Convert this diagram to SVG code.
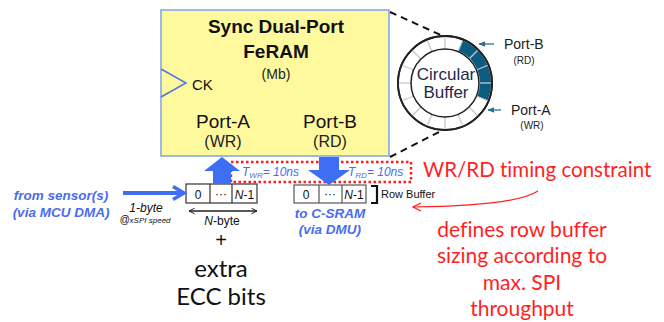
<svg xmlns="http://www.w3.org/2000/svg" width="664" height="322" viewBox="0 0 664 322">
<defs>
<style>
.a{font-family:"Liberation Sans",Arial,sans-serif}
.c{font-family:Lato,"Open Sans",sans-serif;font-variant-ligatures:none}
.blue{fill:#4b6cf0}
.red{fill:#ff1f1f}
.cell{fill:#fff;stroke:#333;stroke-width:1.2}
.tk{stroke:#c8c8c8;stroke-width:1.3}
</style>
<marker id="ah" viewBox="0 0 10 10" refX="9" refY="5" markerWidth="7" markerHeight="7" orient="auto-start-reverse" markerUnits="userSpaceOnUse">
<path d="M1,1 L9,5 L1,9" fill="none" stroke="#222" stroke-width="1.4"/>
</marker>
<marker id="rh" viewBox="0 0 10 10" refX="9" refY="5" markerWidth="10" markerHeight="10" orient="auto-start-reverse" markerUnits="userSpaceOnUse">
<path d="M1,1 L9,5 L1,9" fill="none" stroke="#ff2020" stroke-width="1.2"/>
</marker>
<marker id="th" viewBox="0 0 10 10" refX="9" refY="5" markerWidth="7" markerHeight="7" orient="auto" markerUnits="userSpaceOnUse">
<path d="M0,1 L10,5 L0,9 Z" fill="#2c6f8f"/>
</marker>
<line id="tick" class="tk" x1="445" y1="49" x2="445" y2="36"/>
</defs>
<rect width="664" height="322" fill="#fff"/>

<g id="feram">
<rect x="161" y="10" width="228" height="146" fill="#fff99e" stroke="#7fa2e8" stroke-width="1.5"/>
<text class="a" x="276" y="33" font-size="19" font-weight="bold" text-anchor="middle" fill="#111">Sync Dual-Port</text>
<text class="a" x="276" y="58" font-size="19" font-weight="bold" text-anchor="middle" fill="#111">FeRAM</text>
<text class="a" x="276" y="79" font-size="14" text-anchor="middle" fill="#222">(Mb)</text>
<path d="M161,69 L186,83 L161,97" fill="none" stroke="#4a78e0" stroke-width="1.5"/>
<text class="a" x="192" y="90" font-size="15" fill="#111">CK</text>
<text class="a" x="223" y="128" font-size="19" text-anchor="middle" fill="#111">Port-A</text>
<text class="a" x="223" y="147" font-size="16" text-anchor="middle" fill="#222">(WR)</text>
<text class="a" x="330" y="128" font-size="19" text-anchor="middle" fill="#111">Port-B</text>
<text class="a" x="330" y="147" font-size="16" text-anchor="middle" fill="#222">(RD)</text>
</g>

<g id="circular-buffer">
<circle cx="445" cy="83" r="47" fill="#fff" stroke="#222" stroke-width="1.8"/>
<path d="M462.60,40.50 A46,46 0 0 1 487.50,100.60 L477.34,96.39 A35,35 0 0 0 458.39,50.66 Z" fill="#0d5b80"/>
<use href="#tick"/>
<use href="#tick" transform="rotate(22.5 445 83)"/>
<use href="#tick" transform="rotate(45 445 83)"/>
<use href="#tick" transform="rotate(67.5 445 83)"/>
<use href="#tick" transform="rotate(90 445 83)"/>
<use href="#tick" transform="rotate(112.5 445 83)"/>
<use href="#tick" transform="rotate(135 445 83)"/>
<use href="#tick" transform="rotate(157.5 445 83)"/>
<use href="#tick" transform="rotate(180 445 83)"/>
<use href="#tick" transform="rotate(202.5 445 83)"/>
<use href="#tick" transform="rotate(225 445 83)"/>
<use href="#tick" transform="rotate(247.5 445 83)"/>
<use href="#tick" transform="rotate(270 445 83)"/>
<use href="#tick" transform="rotate(292.5 445 83)"/>
<use href="#tick" transform="rotate(315 445 83)"/>
<use href="#tick" transform="rotate(337.5 445 83)"/>
<circle cx="445" cy="83" r="47" fill="none" stroke="#222" stroke-width="1.8"/>
<circle cx="445" cy="83" r="34" fill="#fff" stroke="#222" stroke-width="1.5"/>
<text class="a" x="446" y="80" font-size="17" text-anchor="middle" fill="#1c2a4a">Circular</text>
<text class="a" x="446" y="98" font-size="17" text-anchor="middle" fill="#1c2a4a">Buffer</text>
<text class="a" x="504" y="49" font-size="14" fill="#222">Port-B</text>
<text class="a" x="524" y="64" font-size="10" text-anchor="middle" fill="#222">(RD)</text>
<text class="a" x="511" y="115" font-size="14" fill="#222">Port-A</text>
<text class="a" x="532" y="129" font-size="10" text-anchor="middle" fill="#222">(WR)</text>
</g>

<g id="row-buffer-in">
<rect class="cell" x="186" y="184" width="71" height="19"/>
<line x1="210" y1="184" x2="210" y2="203" stroke="#333" stroke-width="1.2"/>
<line x1="232" y1="184" x2="232" y2="203" stroke="#333" stroke-width="1.2"/>
<text class="a" x="198" y="199" font-size="12" text-anchor="middle" fill="#111">0</text>
<text class="a" x="221" y="198" font-size="12" text-anchor="middle" fill="#111">···</text>
<text class="a" x="244.5" y="199" font-size="12" text-anchor="middle" fill="#111"><tspan font-style="italic">N</tspan>-1</text>
</g>

<g id="row-buffer-out">
<rect class="cell" x="294" y="185" width="72" height="18" style="stroke:#555"/>
<line x1="319" y1="185" x2="319" y2="203" stroke="#555" stroke-width="1.2"/>
<line x1="342" y1="185" x2="342" y2="203" stroke="#555" stroke-width="1.2"/>
<text class="a" x="306" y="199" font-size="12" text-anchor="middle" fill="#111">0</text>
<text class="a" x="330" y="198" font-size="12" text-anchor="middle" fill="#111">···</text>
<text class="a" x="354" y="199" font-size="12" text-anchor="middle" fill="#111"><tspan font-style="italic">N</tspan>-1</text>
<path d="M371,186 L377,186 L377,203 L371,203" fill="none" stroke="#111" stroke-width="2.2"/>
<text class="a" x="381" y="198" font-size="11" fill="#111">Row Buffer</text>
</g>

<g id="timing">
<rect x="231" y="162" width="180" height="20" fill="none" stroke="#ff1a1a" stroke-width="2.5" stroke-dasharray="2.5 2.5"/>
<text class="a blue" x="242" y="176" font-size="12" font-style="italic">T<tspan font-size="8" dy="2">WR</tspan><tspan dy="-2">= 10ns</tspan></text>
<text class="a blue" x="348" y="176" font-size="12" font-style="italic">T<tspan font-size="8" dy="2">RD</tspan><tspan dy="-2">= 10ns</tspan></text>
</g>

<g id="labels">
<text class="a blue" x="61" y="200" font-size="13.5" font-weight="bold" font-style="italic" text-anchor="middle">from sensor(s)</text>
<text class="a blue" x="61" y="217" font-size="13.5" font-weight="bold" font-style="italic" text-anchor="middle">(via MCU DMA)</text>
<text class="a" x="146" y="212" font-size="12" font-style="italic" text-anchor="middle" fill="#111">1-byte</text>
<text class="a" x="145" y="223" font-size="8" font-style="italic" text-anchor="middle" fill="#111"><tspan font-size="10">@</tspan>xSPI speed</text>
<text class="a" x="222" y="225" font-size="12" text-anchor="middle" fill="#111"><tspan font-style="italic">N</tspan>-byte</text>
<text class="a" x="221" y="247" font-size="20" text-anchor="middle" fill="#111">+</text>
<text class="c" x="221" y="277" font-size="24" text-anchor="middle" fill="#111">extra</text>
<text class="c" x="221" y="305" font-size="24" text-anchor="middle" fill="#111">ECC bits</text>
<text class="a blue" x="330" y="218" font-size="13.5" font-weight="bold" font-style="italic" text-anchor="middle">to C-SRAM</text>
<text class="a blue" x="330" y="234" font-size="13.5" font-weight="bold" font-style="italic" text-anchor="middle">(via DMU)</text>
<text class="c red" x="423" y="177" font-size="20.5">WR/RD timing constraint</text>
<text class="c red" x="522" y="237" font-size="21" text-anchor="middle">defines row buffer</text>
<text class="c red" x="522" y="263" font-size="21" text-anchor="middle">sizing according to</text>
<text class="c red" x="522" y="290" font-size="21" text-anchor="middle">max. SPI</text>
<text class="c red" x="522" y="316" font-size="21" text-anchor="middle">throughput</text>
</g>

<g id="connectors">
<path d="M390,12 L443,36" fill="none" stroke="#111" stroke-width="2" stroke-dasharray="7 5"/>
<path d="M390,157 L443,130" fill="none" stroke="#111" stroke-width="2" stroke-dasharray="7 5"/>
<polygon points="222,157 240,171 231,171 231,184 213,184 213,171 204,171" fill="#3d6ef4"/>
<polygon points="319,157 339,157 339,170 350,170 329,185 308,170 319,170" fill="#3d6ef4"/>
<line x1="123" y1="193" x2="183" y2="193" stroke="#3d6ef4" stroke-width="4"/>
<path d="M173,186.5 L184,193 L173,199.5" fill="none" stroke="#3d6ef4" stroke-width="3.5"/>
<line x1="189" y1="211" x2="257" y2="211" stroke="#222" stroke-width="1.4" marker-start="url(#ah)" marker-end="url(#ah)"/>
<path d="M538,191 Q515,206 413,207" fill="none" stroke="#ff2020" stroke-width="1.2" marker-end="url(#rh)"/>
<line x1="494" y1="44" x2="479" y2="44" stroke="#2c6f8f" stroke-width="1.3" marker-end="url(#th)"/>
<line x1="501" y1="110" x2="488" y2="110" stroke="#2c6f8f" stroke-width="1.3" marker-end="url(#th)"/>
</g>
</svg>
